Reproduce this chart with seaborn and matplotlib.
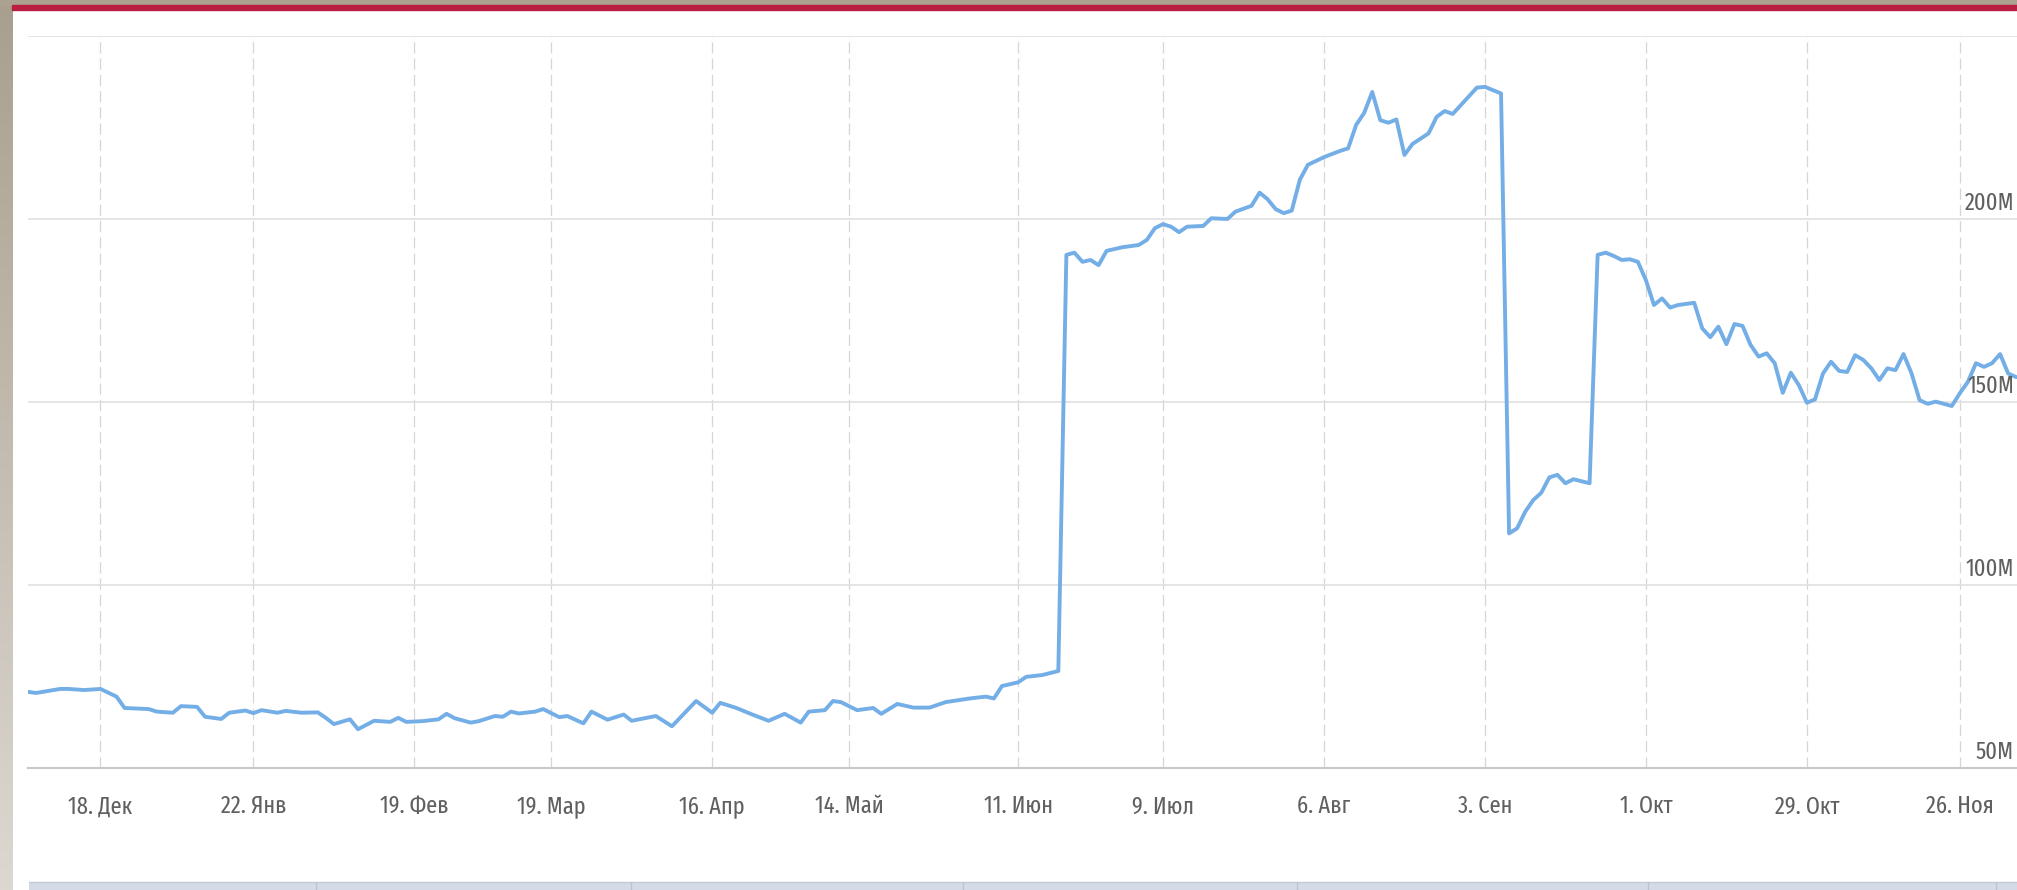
import numpy as np
import pandas as pd
import matplotlib
matplotlib.use("Agg")
import matplotlib.pyplot as plt
from matplotlib import font_manager
from matplotlib.ft2font import FT2Font
from matplotlib.patches import Rectangle
import seaborn as sns

# trading-day index (x) and value in millions (y)
days = [0, 1, 4, 5, 7, 9, 11, 12, 15, 16, 18, 19, 21, 22, 24, 25, 27, 28, 29, 31,
        32, 34, 36, 37, 38, 40, 41, 43, 45, 46, 47, 49, 51, 52, 53, 55, 56, 58, 59, 60,
        61, 63, 64, 66, 67, 69, 70, 72, 74, 75, 78, 80, 83, 85, 86, 88, 90, 92, 94, 96,
        97, 99, 100, 101, 103, 105, 106, 108, 110, 112, 114, 117, 119, 120, 121, 123, 124, 126, 128,
        129, 130, 131, 132, 133, 134, 136, 138, 139, 140, 141, 142, 143, 144, 146, 147, 149, 150,
        152, 153, 154, 155, 156, 157, 158, 159, 161, 163, 164, 165, 166, 167, 168, 169, 170,
        171, 172, 174, 175, 176, 177, 178, 180, 181, 182, 183,
        184, 185, 186, 187, 188, 189, 190, 191, 192, 194,
        195, 196, 197, 198, 199, 200, 201, 202, 203, 204, 205, 207, 208, 209, 210, 211, 212,
        213, 214, 215, 216, 217, 218, 219, 220, 221, 222, 223, 224, 225, 226, 227, 228, 229,
        230, 231, 232, 233, 234, 235, 236, 237, 239, 240, 241, 242, 243, 244, 245, 246, 247]
values = [70.8, 70.5, 71.6, 71.6, 71.3, 71.6, 69.5, 66.4, 66.1, 65.4, 65.1, 66.9, 66.7, 64.0, 63.4, 65.1, 65.7, 65.0, 65.8, 65.1,
          65.6, 65.1, 65.2, 63.7, 62.0, 63.3, 60.6, 62.9, 62.6, 63.7, 62.6, 62.8, 63.3, 64.8, 63.6, 62.4, 62.8, 64.2, 64.0, 65.4,
          64.9, 65.4, 66.1, 63.9, 64.2, 62.2, 65.4, 63.2, 64.6, 62.9, 64.2, 61.4, 68.3, 65.1, 67.8, 66.4, 64.6, 62.9, 64.8, 62.4,
          65.4, 65.8, 68.3, 68.0, 65.8, 66.4, 64.8, 67.5, 66.5, 66.5, 68.0, 69.0, 69.5, 69.0, 72.4, 73.4, 74.9, 75.4, 76.5,
          190.2, 190.8, 188.3, 188.8, 187.4, 191.3, 192.3, 192.9, 194.3, 197.5, 198.6, 197.9, 196.4, 197.9, 198.1, 200.2, 200.0, 202.0,
          203.6, 207.2, 205.4, 202.7, 201.6, 202.3, 210.7, 214.8, 216.9, 218.6, 219.3, 225.7, 229.0, 234.7, 227.0, 226.3, 227.2,
          217.5, 220.5, 223.4, 227.9, 229.5, 228.7, 231.1, 235.9, 236.1, 235.2, 234.3,
          114.1, 115.5, 120.0, 123.2, 125.2, 129.4, 130.1, 127.8, 128.9, 127.8,
          190.2, 190.8, 189.9, 188.8, 189.0, 188.3, 183.3, 176.5, 178.3, 175.8, 176.5, 177.1, 170.1, 167.7, 170.6, 165.8, 171.3,
          170.8, 165.6, 162.4, 163.3, 160.6, 152.5, 158.0, 154.6, 149.8, 150.7, 157.8, 161.0, 158.5, 158.2, 162.8, 161.5, 159.2,
          156.0, 159.2, 158.7, 163.1, 157.8, 150.5, 149.5, 150.1, 148.9, 152.4, 155.5, 160.6, 159.6, 160.6, 163.1, 157.8, 156.8]

tick_days = [9, 28, 48, 65, 85, 102, 123, 141, 161, 181, 201, 221, 240]
tick_labels = ["18. Дек", "22. Янв", "19. Фев", "19. Мар", "16. Апр", "14. Май", "11. Июн",
               "9. Июл", "6. Авг", "3. Сен", "1. Окт", "29. Окт", "26. Ноя"]
y_grid = [50, 100, 150, 200, 250]
y_labels = [50, 100, 150, 200]

df = pd.DataFrame({"day": days, "value": values})

sns.set_theme(style="white")


def pick_narrow_font(texts, target_px=68.0, size_px=25.0):
    # the original uses a narrow face: among condensed/narrow faces that carry
    # every needed glyph, take the one whose "18. Дек" width is closest to the reference
    needed = {ord(c) for t in texts for c in t if c != " "}
    best, best_err = None, None
    for f in font_manager.fontManager.ttflist:
        if f.style != "normal" or f.weight not in (400, "normal", "regular"):
            continue
        tag = (f.name + " " + f.fname).lower()
        if "condensed" not in tag and "narrow" not in tag:
            continue
        try:
            ft = FT2Font(f.fname)
            if not needed.issubset(ft.get_charmap().keys()):
                continue
            ft.set_size(size_px * 0.72, 100)
            ft.set_text(texts[0])
            w = ft.get_width_height()[0] / 64.0
        except Exception:
            continue
        err = abs(w - target_px)
        if best is None or err < best_err:
            best, best_err = f.fname, err
    return best


narrow = pick_narrow_font(tick_labels + ["200M"])
if narrow:
    label_font = font_manager.FontProperties(fname=narrow, size=17.5)
else:
    label_font = font_manager.FontProperties(family=["Roboto", "DejaVu Sans"], size=16)
plt.rcParams['font.family'] = ['Roboto', 'DejaVu Sans']

W, H = 2017, 890
fig = plt.figure(figsize=(W / 100, H / 100), dpi=100)
fig.patch.set_facecolor("white")

# plot area
ax = fig.add_axes([28 / W, 1 - 768 / H, 1 - 28 / W, (768 - 36) / H])
sns.lineplot(data=df, x="day", y="value", ax=ax, color="#74aee6", linewidth=2.8)
ax.set_xlim(0, 247.1)
ax.set_ylim(50, 250)
ax.set_xlabel("")
ax.set_ylabel("")

ax.set_yticks(y_grid)
ax.set_yticklabels([])
ax.tick_params(axis="y", length=0)
ax.set_xticks(tick_days)
ax.set_xticklabels(tick_labels, color="#606060")
for t in ax.get_xticklabels():
    t.set_fontproperties(label_font)
ax.tick_params(axis="x", length=9.5, width=0.8, color="#cfcfcf", pad=10, direction="out")

ax.yaxis.grid(True, color="#e0e0e0", linewidth=1.2)
ax.xaxis.grid(True, color="#d6d6d6", linewidth=0.9, linestyle=(0, (9, 4)))
for side in ["top", "left", "right"]:
    ax.spines[side].set_visible(False)
ax.spines["bottom"].set_color("#c8c8c8")
ax.spines["bottom"].set_linewidth(1.5)

# y labels sit inside the plot on the right, just above their gridline
for v in y_labels:
    ax.annotate(f"{v}M", xy=(0.9985, v), xycoords=ax.get_yaxis_transform(),
                xytext=(0, 3), textcoords="offset points",
                ha="right", va="bottom", color="#606060", fontproperties=label_font)

# page decoration: left strip, top bands, navigator bar
strip = fig.add_axes([0, 0, 12 / W, 1])
grad = np.linspace(0, 1, 256).reshape(-1, 1)
strip.imshow(grad, aspect="auto", cmap=matplotlib.colors.LinearSegmentedColormap.from_list(
    "strip", ["#a99f8e", "#dcd8d1"]))
strip.axis("off")

fig.patches.append(Rectangle((0, 1 - 5 / H), 1, 5 / H, transform=fig.transFigure,
                             color="#aca290", zorder=5))
fig.patches.append(Rectangle((12 / W, 1 - 10 / H), 1, 5 / H, transform=fig.transFigure,
                             color="#b81f40", zorder=5))
fig.patches.append(Rectangle((29 / W, 0), 1, 8 / H, transform=fig.transFigure,
                             facecolor="#d3dae8", edgecolor="none", zorder=5))
fig.add_artist(plt.Line2D([29 / W, 1], [8 / H, 8 / H], transform=fig.transFigure,
                          color="#c4cad6", linewidth=1, zorder=6))
for px in [316, 631, 963, 1297, 1648, 1996]:
    fig.add_artist(plt.Line2D([px / W, px / W], [0, 8 / H], transform=fig.transFigure,
                              color="#bcc3d0", linewidth=1, zorder=6))

fig.savefig("out.png", dpi=100)
